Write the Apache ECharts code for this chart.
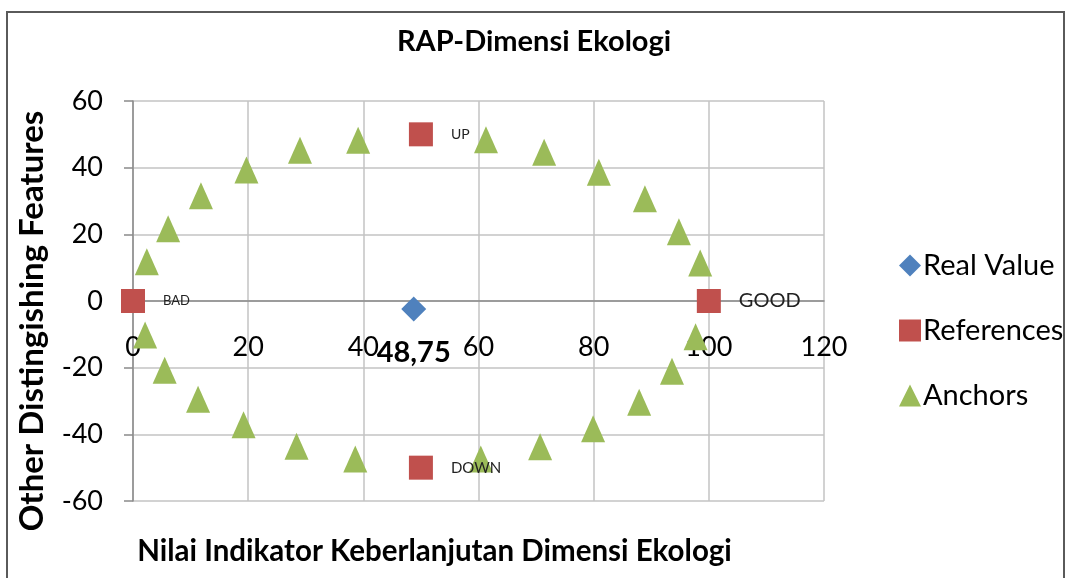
<!DOCTYPE html>
<html>
<head>
<meta charset="utf-8">
<script src="https://cdn.jsdelivr.net/npm/echarts@6/dist/echarts.min.js"></script>
<style>
  html, body { margin: 0; padding: 0; background: #fff; }
  #main { width: 1068px; height: 578px; }
</style>
</head>
<body>
<div id="main"></div>
<script type="application/javascript">
// anchors (upper arc left to right, then lower arc right to left)
var anchorX = [2.4, 6.1, 11.8, 19.7, 29.0, 39.1, 61.3, 71.4, 80.9, 88.9, 94.8, 98.5,
               97.7, 93.6, 87.9, 79.9, 70.7, 60.4, 38.6, 28.4, 19.2, 11.3, 5.5, 2.1];
var anchorY = [11.8, 21.7, 31.6, 39.3, 45.2, 48.2, 48.4, 44.6, 38.6, 30.7, 20.8, 11.4,
               -10.7, -21.1, -30.4, -38.3, -43.7, -47.4, -47.4, -43.6, -37.1, -29.5, -20.8, -10.2];

var refNames = ['BAD', 'GOOD', 'UP', 'DOWN'];
var refX = [0, 100, 50, 50];
var refY = [0, 0, 50, -50];

var realX = [48.75];
var realY = [-2.4];
var realLabel = ['48,75'];

var seriesNames = ['Real Value', 'References', 'Anchors'];

var FONT = 'Lato';
var gridColor = '#c3c3c3';
var axisColor = '#8a8a8a';

// label sizes differ per reference point in the original
var refLabelSize = {BAD: 13, GOOD: 20, UP: 14, DOWN: 15};

var anchorData = anchorX.map(function (x, i) { return [x, anchorY[i]]; });
var refData = refX.map(function (x, i) {
    return {
        name: refNames[i],
        value: [x, refY[i]],
        label: {fontSize: refLabelSize[refNames[i]]}
    };
});
var realData = realX.map(function (x, i) {
    return {name: realLabel[i], value: [x, realY[i]]};
});

var gridTop = 101, gridBottom = 77, chartH = 578;
// x axis crosses at y = 0, which is half-way down the plot (y range is symmetric)
var xAxisLift = (chartH - gridTop - gridBottom) / 2;

var chart = echarts.init(document.getElementById('main'));
var option = {
    backgroundColor: '#fff',
    animation: false,
    textStyle: {fontFamily: FONT},
    title: {
        text: 'RAP-Dimensi Ekologi',
        left: 'center',
        top: 22,
        textStyle: {fontFamily: FONT, fontWeight: 'bold', fontSize: 29, color: '#000'}
    },
    legend: {
        orient: 'vertical',
        left: 894,
        top: 246,
        itemGap: 36,
        itemWidth: 22,
        itemHeight: 22,
        data: [
            {name: seriesNames[0], icon: 'diamond'},
            {name: seriesNames[1], icon: 'rect'},
            {name: seriesNames[2], icon: 'triangle'}
        ],
        textStyle: {fontFamily: FONT, fontSize: 29, color: '#000', padding: [0, 0, 0, -3]}
    },
    grid: {left: 133, right: 244, top: gridTop, bottom: gridBottom, containLabel: false, outerBoundsMode: 'none'},
    xAxis: {
        type: 'value',
        min: 0, max: 120, interval: 20,
        offset: -xAxisLift,
        name: 'Nilai Indikator Keberlanjutan Dimensi Ekologi',
        nameLocation: 'middle',
        nameGap: 235,
        nameTextStyle: {fontFamily: FONT, fontWeight: 'bold', fontSize: 29.5, color: '#000', padding: [0, 88, 0, 0]},
        axisLine: {onZero: false, lineStyle: {color: axisColor, width: 1.5}},
        axisTick: {show: false},
        axisLabel: {margin: 33, fontSize: 27, color: '#000', fontFamily: FONT},
        splitLine: {show: true, lineStyle: {color: gridColor, width: 1.5}}
    },
    yAxis: {
        type: 'value',
        min: -60, max: 60, interval: 20,
        name: 'Other Distingishing Features',
        nameLocation: 'middle',
        nameGap: 84,
        nameRotate: 90,
        nameTextStyle: {fontFamily: FONT, fontWeight: 'bold', fontSize: 33, color: '#000', padding: [0, 40, 0, 0]},
        axisLine: {show: true, onZero: false, lineStyle: {color: axisColor, width: 1.5}},
        axisTick: {show: true, length: 9, lineStyle: {color: axisColor, width: 1.5}},
        axisLabel: {margin: 30, fontSize: 27, color: '#000', fontFamily: FONT},
        splitLine: {show: true, lineStyle: {color: gridColor, width: 1.5}}
    },
    series: [
        {
            name: seriesNames[0],
            type: 'scatter',
            symbol: 'diamond',
            symbolSize: 25,
            itemStyle: {color: '#4f81bd', opacity: 1},
            data: realData,
            label: {
                show: true,
                position: 'bottom',
                distance: 17,
                formatter: '{b}',
                fontFamily: FONT,
                fontWeight: 'bold',
                fontSize: 29,
                color: '#000'
            },
            z: 4
        },
        {
            name: seriesNames[1],
            type: 'scatter',
            symbol: 'rect',
            symbolSize: 24,
            itemStyle: {color: '#c0504d', opacity: 1},
            data: refData,
            label: {
                show: true,
                position: 'right',
                distance: 18,
                formatter: '{b}',
                fontFamily: FONT,
                color: '#222'
            },
            z: 3
        },
        {
            name: seriesNames[2],
            type: 'scatter',
            symbol: 'triangle',
            symbolSize: [24, 27],
            itemStyle: {color: '#9bbb59', opacity: 1},
            data: anchorData,
            z: 2
        }
    ],
    graphic: [{
        type: 'rect',
        silent: true,
        shape: {x: 7, y: 12, width: 1057, height: 600},
        style: {fill: 'none', stroke: '#5a5a5a', lineWidth: 2},
        z: 10
    }]
};
chart.setOption(option);
</script>
</body>
</html>
